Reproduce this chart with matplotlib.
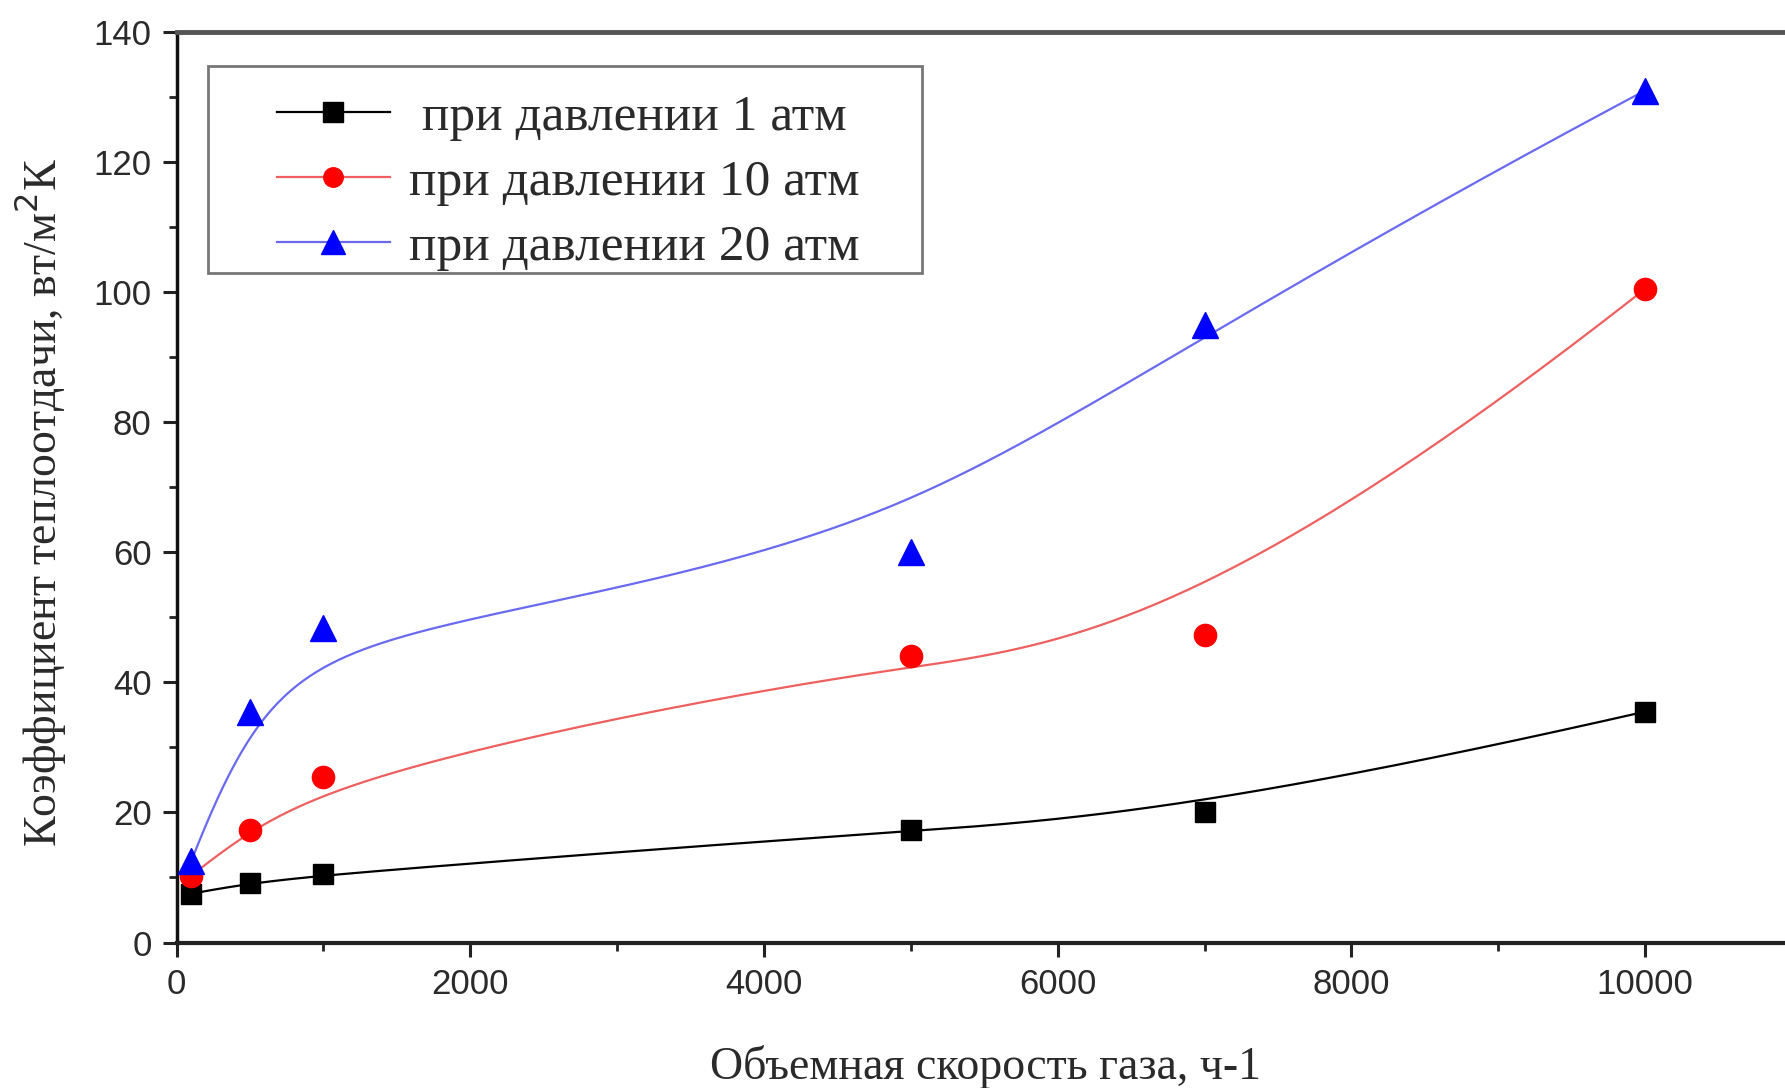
import matplotlib
matplotlib.use('Agg')
import matplotlib.pyplot as plt
import numpy as np
from matplotlib.ticker import MultipleLocator
from matplotlib.patches import Rectangle

# gas flow rate, h-1
flow = [100, 500, 1000, 5000, 7000, 10000]
# heat transfer coefficient, W/m2K
p1 = [7.5, 9.2, 10.5, 17.3, 20.1, 35.5]
p10 = [10.3, 17.3, 25.5, 44.0, 47.3, 100.5]
p20 = [12.5, 35.5, 48.3, 60.0, 95.0, 131.0]
labels = [' при давлении 1 атм', 'при давлении 10 атм', 'при давлении 20 атм']


def bspline(xs, ys, n=400):
    # clamped cubic B-spline using the points as control points (Origin style)
    P = np.column_stack([xs, ys]).astype(float)
    k = 3
    m = len(P)
    knots = np.concatenate([np.zeros(k), np.linspace(0, 1, m - k + 1), np.ones(k)])
    t = np.linspace(0, 1, n)
    t[-1] = 1 - 1e-9
    B = np.zeros((n, len(knots) - 1))
    for i in range(len(knots) - 1):
        B[:, i] = (knots[i] <= t) & (t < knots[i + 1])
    for d in range(1, k + 1):
        Bn = np.zeros((n, len(knots) - 1 - d))
        for i in range(len(knots) - 1 - d):
            a = knots[i + d] - knots[i]
            b = knots[i + d + 1] - knots[i + 1]
            left = (t - knots[i]) / a * B[:, i] if a > 0 else 0
            right = (knots[i + d + 1] - t) / b * B[:, i + 1] if b > 0 else 0
            Bn[:, i] = left + right
        B = Bn
    C = B @ P
    return C[:, 0], C[:, 1]


fig = plt.figure(figsize=(17.85, 10.88), dpi=100)
ax = fig.add_axes([0.0989, 0.1337, 0.905, 0.8369])

series = [(p1, 'black', 'black', 's', 15, 14),
          (p10, 'red', '#ee6060', 'o', 16, 14),
          (p20, 'blue', '#6a6af0', '^', 19, 17)]
handles = []
for (ys, mc, lc, mk, ms, lms), lab in zip(series, labels):
    cx, cy = bspline(flow, ys)
    ax.plot(cx, cy, color=lc, lw=1.6, zorder=2)
    ax.plot(flow, ys, ls='none', marker=mk, ms=ms, color=mc, zorder=3)
    h, = ax.plot([], [], color=lc, lw=1.6, marker=mk, ms=lms, mfc=mc, mec=mc)
    handles.append(h)

ax.set_xlim(0, 11000)
ax.set_ylim(0, 140)
ax.xaxis.set_major_locator(MultipleLocator(2000))
ax.xaxis.set_minor_locator(MultipleLocator(1000))
ax.yaxis.set_major_locator(MultipleLocator(20))
ax.yaxis.set_minor_locator(MultipleLocator(10))
ax.tick_params(which='major', length=10, width=2.2, labelsize=25, pad=8, color='#222222')
ax.tick_params(which='minor', length=6, width=2.0, color='#222222')
for lab in ax.get_xticklabels() + ax.get_yticklabels():
    lab.set_family('Liberation Sans')
    lab.set_color('#2a2a2a')

ax.spines['left'].set_linewidth(2.5)
ax.spines['left'].set_color('#111111')
ax.spines['bottom'].set_linewidth(3)
ax.spines['bottom'].set_color('#222222')
ax.spines['top'].set_linewidth(3.5)
ax.spines['top'].set_color('#555555')
ax.spines['right'].set_visible(False)

ax.set_xlabel('Объемная скорость газа, ч-1', family='Liberation Serif', fontsize=33,
              color='#2a2a2a', va='center')
ax.xaxis.set_label_coords(0.5006, -0.1366)
ax.set_ylabel('Коэффициент теплоотдачи, вт/м$^2$К', family='Liberation Serif', fontsize=33,
              color='#2a2a2a', va='center')
ax.yaxis.set_label_coords(-0.0845, 0.483)

# legend frame drawn separately so that the padding matches the original
ax.add_patch(Rectangle((0.0195, 0.7353), 0.4421, 0.2274, transform=ax.transAxes,
                       fill=False, edgecolor='#777777', lw=2, zorder=4))
leg = ax.legend(handles, labels, loc='upper left', bbox_to_anchor=(0.062, 0.932),
                borderaxespad=0, borderpad=0, frameon=False, handlelength=2.2,
                labelspacing=0.35, handletextpad=0.37,
                prop={'family': 'Liberation Serif', 'size': 37})
for t in leg.get_texts():
    t.set_color('#2a2a2a')

fig.savefig('out.png', dpi=100)
